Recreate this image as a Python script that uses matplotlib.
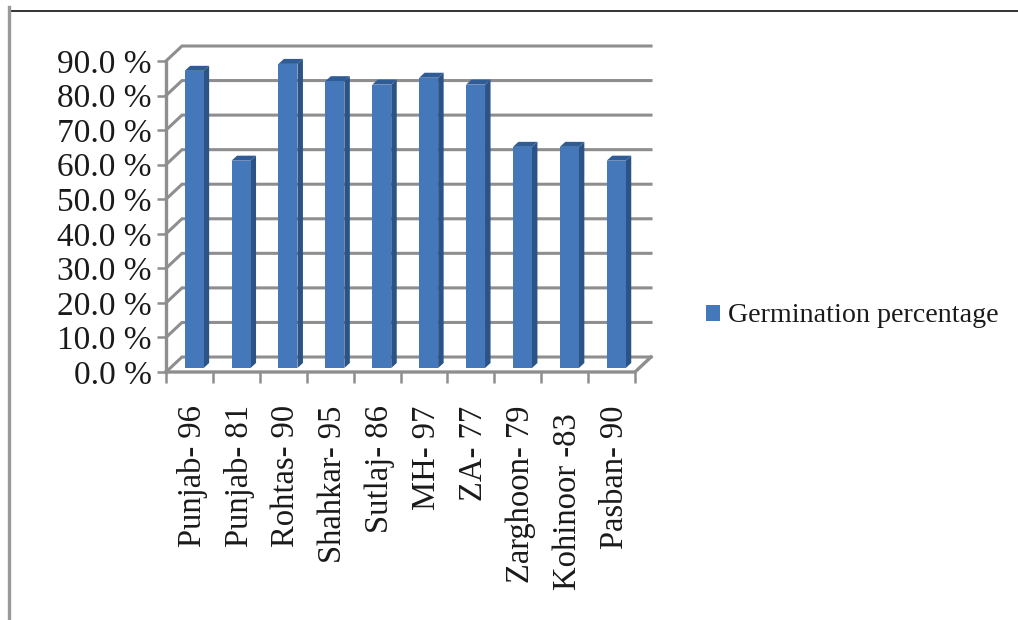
import matplotlib
matplotlib.use("Agg")
import matplotlib.pyplot as plt
from matplotlib.lines import Line2D
from matplotlib.patches import Patch, Polygon
from matplotlib.transforms import ScaledTranslation
import numpy as np

categories = ["Punjab- 96", "Punjab- 81", "Rohtas- 90", "Shahkar- 95", "Sutlaj- 86",
              "MH- 97", "ZA- 77", "Zarghoon- 79", "Kohinoor -83", "Pasban- 90"]
values = [86, 60, 88, 83, 82, 84, 82, 64, 64, 60]
y_ticks = [0, 10, 20, 30, 40, 50, 60, 70, 80, 90]
series_name = "Germination percentage"

W, H = 1018, 620
plt.rcParams["font.family"] = ["Liberation Serif", "DejaVu Serif"]
fig = plt.figure(figsize=(W / 100, H / 100), dpi=100, facecolor="white")

L, R, T, B = 166, 635, 61, 372
ax = fig.add_axes([L / W, 1 - B / H, (R - L) / W, (B - T) / H])
ax.set_xlim(0, 10)
ax.set_ylim(0, 90)
ax.patch.set_visible(False)
for s in ax.spines.values():
    s.set_visible(False)

GRID = "#8e8e8e"
px_x = 10 / (R - L)
px_y = 90 / (B - T)
dx, dy = 16 * px_x, 15 * px_y

# walls and floor
for v in y_ticks:
    ax.plot([0, dx, 10 + dx], [v, v + dy, v + dy],
            color=GRID, lw=2.2, clip_on=False, zorder=1, solid_joinstyle="miter")
ax.plot([0, 0], [0, 90], color=GRID, lw=2.4, clip_on=False, zorder=2)
ax.plot([0, 10, 10 + dx], [0, 0, dy], color=GRID, lw=2.4, clip_on=False, zorder=2)

# bars
x = np.arange(len(values)) + 0.6
bw = 19 * px_x
base = 4 * px_y
sx, sy = 5.5 * px_x, 5 * px_y
FRONT, SIDE, TOP = "#4478bb", "#2c5385", "#2f5c94"
ax.bar(x, values, width=bw, bottom=base, color=FRONT, zorder=4, clip_on=False)
for xi, v in zip(x, values):
    xl, xr, top = xi - bw / 2, xi + bw / 2, v + base
    ax.add_patch(Polygon([(xr, base), (xr + sx, base + sy), (xr + sx, top + sy), (xr, top)],
                         closed=True, fc=SIDE, ec="none", zorder=3, clip_on=False))
    ax.add_patch(Polygon([(xl, top), (xl + sx, top + sy), (xr + sx, top + sy), (xr, top)],
                         closed=True, fc=TOP, ec="none", zorder=3, clip_on=False))

# axis ticks and labels
ax.set_yticks(y_ticks)
ax.set_yticklabels([f"{v:.1f} %" for v in y_ticks], fontsize=24, color="#1a1a1a")
ax.tick_params(axis="y", length=6.5, width=1.8, color=GRID, pad=4)
ax.set_xticks(np.arange(0, 11))
ax.set_xticklabels([])
ax.tick_params(axis="x", which="major", length=8, width=1.8, color=GRID)
ax.set_xticks(np.arange(len(categories)) + 0.5, minor=True)
ax.set_xticklabels(categories, minor=True, rotation=90, fontsize=23.5, color="#1a1a1a")
ax.tick_params(axis="x", which="minor", length=0, pad=24)
for lab in ax.get_xticklabels(minor=True):
    shift_down = 8 if lab.get_text().startswith("Kohinoor") else 0
    lab.set_transform(lab.get_transform()
                      + ScaledTranslation(3 / 100, -shift_down / 100, fig.dpi_scale_trans))

# legend
ax.legend(handles=[Patch(facecolor=FRONT, edgecolor="none", label=series_name)],
          loc="center left", bbox_to_anchor=(706 / W, 1 - 316 / H),
          bbox_transform=fig.transFigure, frameon=False, fontsize=20.2,
          handlelength=0.5, handleheight=0.5, handletextpad=0.3,
          borderpad=0, borderaxespad=0, labelcolor="#1a1a1a")

# outer frame fragments
fig.add_artist(Line2D([9 / W, 1], [1 - 11 / H, 1 - 11 / H], color="#222222", lw=1.3))
fig.add_artist(Line2D([9 / W, 9 / W], [0, 1 - 7 / H], color="#9a9a9a", lw=2.4))

fig.savefig("out.png", dpi=100, facecolor="white")
